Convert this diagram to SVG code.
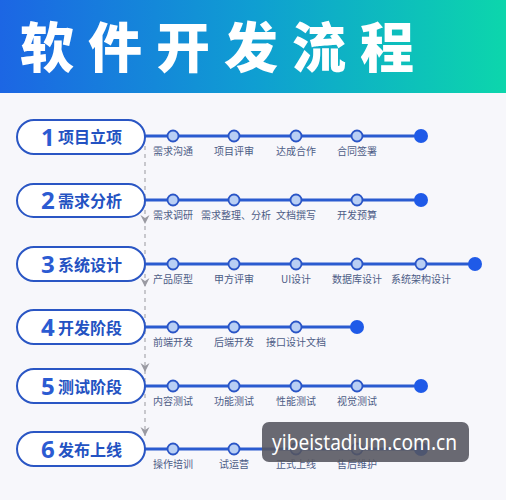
<svg xmlns="http://www.w3.org/2000/svg" width="506" height="500" viewBox="0 0 506 500">
<defs>
<linearGradient id="hg" x1="0" y1="0" x2="1" y2="0">
<stop offset="0" stop-color="#1c66e4"/>
<stop offset="0.5" stop-color="#0f9ed2"/>
<stop offset="1" stop-color="#0cd6ac"/>
</linearGradient>
<path id="arr" d="M-4.5,-5 L0,-2 L4.5,-5 L0,4 Z"/>
</defs>
<style>
.title{font-family:"Noto Sans CJK SC",sans-serif;font-weight:900;font-size:54px;fill:#fff;letter-spacing:14px}
.pill{fill:#fff;stroke:#2a56c4;stroke-width:2}
.num{font-family:"Noto Sans","Noto Sans CJK SC",sans-serif;font-weight:700;font-size:24px;fill:#2b5bd2}
.ptxt{font-family:"Noto Sans CJK SC",sans-serif;font-weight:700;font-size:16px;fill:#2352c2}
.line{stroke:#2a5bd0;stroke-width:3;fill:none}
.node{fill:#b9cff4;stroke:#2a55c6;stroke-width:1.8}
.end{fill:#1f5ae8}
.lbl{font-family:"Noto Sans CJK SC",sans-serif;font-size:10px;fill:#4d5c86;text-anchor:middle}
.dash{stroke:#a8a8ae;stroke-width:1.2;stroke-dasharray:4 4;fill:none}
.ah{fill:#9a9aa2}
.wm{font-family:"Noto Sans",sans-serif;font-size:21px;fill:#fff}
</style>
<rect x="0" y="0" width="506" height="500" fill="#f7f7fb"/>
<g id="header">
<rect x="0" y="0" width="506" height="93" fill="url(#hg)"/>
<text class="title" x="20" y="68">软件开发流程</text>
</g>
<g id="connectors">
<line class="dash" x1="145" y1="146" x2="145" y2="436"/>
<use href="#arr" class="ah" x="145" y="220"/>
<use href="#arr" class="ah" x="145" y="283"/>
<use href="#arr" class="ah" x="145" y="368"/>
<use href="#arr" class="ah" x="145" y="432"/>
<line class="line" x1="145" y1="136" x2="421" y2="136"/>
<line class="line" x1="145" y1="200" x2="421" y2="200"/>
<line class="line" x1="145" y1="264" x2="475" y2="264"/>
<line class="line" x1="145" y1="327" x2="357" y2="327"/>
<line class="line" x1="145" y1="386" x2="421" y2="386"/>
<line class="line" x1="145" y1="449" x2="421" y2="449"/>
</g>
<g id="stage1">
<rect class="pill" x="17" y="120" width="128" height="34" rx="17"/>
<text class="num" x="41" y="146">1</text><text class="ptxt" x="58" y="143">项目立项</text>
<circle class="node" cx="173" cy="136" r="5.5"/><circle class="node" cx="234" cy="136" r="5.5"/><circle class="node" cx="296" cy="136" r="5.5"/><circle class="node" cx="357" cy="136" r="5.5"/><circle class="end" cx="421" cy="136" r="7"/>
<text class="lbl" x="173" y="155">需求沟通</text><text class="lbl" x="234" y="155">项目评审</text><text class="lbl" x="296" y="155">达成合作</text><text class="lbl" x="357" y="155">合同签署</text>
</g>
<g id="stage2">
<rect class="pill" x="17" y="184" width="128" height="33" rx="16.5"/>
<text class="num" x="41" y="209">2</text><text class="ptxt" x="58" y="207">需求分析</text>
<circle class="node" cx="173" cy="200" r="5.5"/><circle class="node" cx="234" cy="200" r="5.5"/><circle class="node" cx="296" cy="200" r="5.5"/><circle class="node" cx="357" cy="200" r="5.5"/><circle class="end" cx="421" cy="200" r="7"/>
<text class="lbl" x="173" y="219">需求调研</text><text class="lbl" x="236" y="219">需求整理、分析</text><text class="lbl" x="296" y="219">文档撰写</text><text class="lbl" x="357" y="219">开发预算</text>
</g>
<g id="stage3">
<rect class="pill" x="17" y="247" width="128" height="34" rx="17"/>
<text class="num" x="41" y="273">3</text><text class="ptxt" x="58" y="271">系统设计</text>
<circle class="node" cx="173" cy="264" r="5.5"/><circle class="node" cx="234" cy="264" r="5.5"/><circle class="node" cx="296" cy="264" r="5.5"/><circle class="node" cx="357" cy="264" r="5.5"/><circle class="node" cx="421" cy="264" r="5.5"/><circle class="end" cx="475" cy="264" r="7"/>
<text class="lbl" x="173" y="283">产品原型</text><text class="lbl" x="234" y="283">甲方评审</text><text class="lbl" x="296" y="283">UI设计</text><text class="lbl" x="357" y="283">数据库设计</text><text class="lbl" x="421" y="283">系统架构设计</text>
</g>
<g id="stage4">
<rect class="pill" x="17" y="310" width="128" height="34" rx="17"/>
<text class="num" x="41" y="336">4</text><text class="ptxt" x="58" y="334">开发阶段</text>
<circle class="node" cx="173" cy="327" r="5.5"/><circle class="node" cx="234" cy="327" r="5.5"/><circle class="node" cx="296" cy="327" r="5.5"/><circle class="end" cx="357" cy="327" r="7"/>
<text class="lbl" x="173" y="346">前端开发</text><text class="lbl" x="234" y="346">后端开发</text><text class="lbl" x="296" y="346">接口设计文档</text>
</g>
<g id="stage5">
<rect class="pill" x="17" y="369" width="128" height="34" rx="17"/>
<text class="num" x="41" y="395">5</text><text class="ptxt" x="58" y="393">测试阶段</text>
<circle class="node" cx="173" cy="386" r="5.5"/><circle class="node" cx="234" cy="386" r="5.5"/><circle class="node" cx="296" cy="386" r="5.5"/><circle class="node" cx="357" cy="386" r="5.5"/><circle class="end" cx="421" cy="386" r="7"/>
<text class="lbl" x="173" y="405">内容测试</text><text class="lbl" x="234" y="405">功能测试</text><text class="lbl" x="296" y="405">性能测试</text><text class="lbl" x="357" y="405">视觉测试</text>
</g>
<g id="stage6">
<rect class="pill" x="17" y="432" width="128" height="34" rx="17"/>
<text class="num" x="41" y="458">6</text><text class="ptxt" x="58" y="456">发布上线</text>
<circle class="node" cx="173" cy="449" r="5.5"/><circle class="node" cx="234" cy="449" r="5.5"/><circle class="node" cx="296" cy="449" r="5.5"/><circle class="node" cx="357" cy="449" r="5.5"/><circle class="end" cx="421" cy="449" r="7"/>
<text class="lbl" x="173" y="468">操作培训</text><text class="lbl" x="234" y="468">试运营</text><text class="lbl" x="296" y="468">正式上线</text><text class="lbl" x="357" y="468">售后维护</text>
</g>
<g id="watermark">
<rect x="262" y="422" width="207" height="40" rx="7" fill="#55555f" fill-opacity="0.88"/>
<text class="wm" x="272" y="450" textLength="185" lengthAdjust="spacingAndGlyphs">yibeistadium.com.cn</text>
</g>
</svg>
